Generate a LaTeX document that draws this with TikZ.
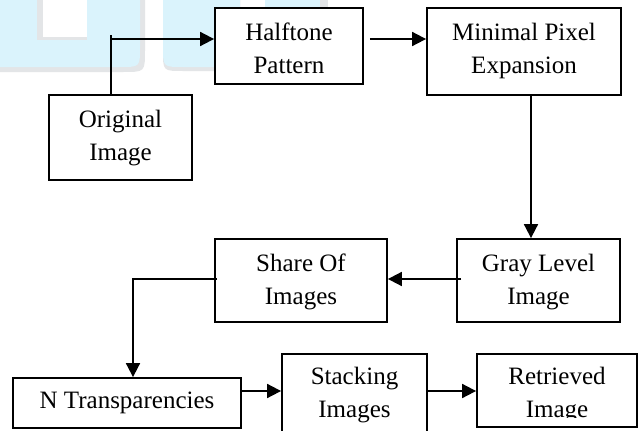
\documentclass[tikz,border=0pt]{standalone}
\usepackage{fontspec}
\setmainfont{Liberation Serif}
\usetikzlibrary{arrows.meta,calc}
\definecolor{wmblue}{HTML}{DAF3FC}
\definecolor{wmgray}{HTML}{E3E5E7}
\begin{document}
\begin{tikzpicture}[x=1pt,y=-1pt,
  box/.style={draw=black, fill=white, line width=1.8pt, rectangle, inner sep=0pt},
  txt/.style={font=\fontsize{25}{33}\selectfont, align=center, inner sep=0pt, anchor=north},
  conn/.style={line width=1.8pt},
  arr/.style={conn, -{Triangle[length=14pt,width=14pt]}}]
\clip (0,0) rectangle (638,431);
\fill[white] (0,0) rectangle (638,431);
% watermark
\fill[wmgray] (0,0) -- (145,0) -- (145,50) .. controls (145,72) .. (123,72) -- (0,72) -- cycle;
\fill[wmblue] (0,0) -- (140,0) -- (140,47) .. controls (140,67) .. (120,67) -- (0,67) -- cycle;
\fill[wmgray] (37,0) rectangle (87,40);
\fill[white] (43,0) rectangle (87,37);
\fill[wmgray] (163,0) -- (240,0) -- (240,71) -- (183,71) .. controls (163,71) .. (163,51) -- cycle;
\fill[wmblue] (163,0) -- (240,0) -- (240,67) -- (183,67) .. controls (163,67) .. (163,47) -- cycle;
\fill[wmgray] (265,0) rectangle (328,10);
\fill[wmblue] (265,0) rectangle (320,10);
% boxes
\node[box, minimum width=143pt, minimum height=85pt] (orig) at (120.5,137.5) {};
\node[box, minimum width=148pt, minimum height=76pt] (half) at (289,46) {};
\node[box, minimum width=194pt, minimum height=87pt] (mini) at (524,51.5) {};
\node[box, minimum width=163pt, minimum height=83pt] (gray) at (538.5,280.5) {};
\node[box, minimum width=172pt, minimum height=83pt] (share) at (301,280.5) {};
\node[box, minimum width=228pt, minimum height=50pt] (ntr) at (127,403) {};
\node[box, minimum width=145pt, minimum height=100pt] (stack) at (354.5,404) {};
\node[box, minimum width=160pt, minimum height=73pt] (retr) at (557,390.5) {};
% texts
\node[txt] (origT) at ([yshift=-16pt]orig.north) {Original\\Image};
\node[txt] (halfT) at ([yshift=-16pt]half.north) {Halftone\\Pattern};
\node[txt] (miniT) at ([yshift=-16pt]mini.north) {Minimal Pixel\\Expansion};
\node[txt] (grayT) at ([yshift=-16pt]gray.north) {Gray Level\\Image};
\node[txt] (shareT) at ([yshift=-16pt]share.north) {Share Of\\Images};
\node[txt] (ntrT) at ([yshift=-15pt]ntr.north) {N Transparencies};
\node[txt] (stackT) at ([yshift=-14pt]stack.north) {Stacking\\Images};
\begin{scope}
\clip (477,354) rectangle (637,417);
\node[txt] (retrT) at ([yshift=-14pt]retr.north) {Retrieved\\Image};
\end{scope}
% connectors
\coordinate (j1) at (111,39);
\coordinate (j1top) at (111,35);
\draw[conn] (orig.north -| j1) -- (j1top);
\draw[arr] (j1) -- (j1 -| half.west);
\draw[arr] ([xshift=6pt]half.east |- j1) -- (j1 -| mini.west);
\coordinate (j2) at (531,0);
\draw[arr] (mini.south -| j2) -- (gray.north -| j2);
\coordinate (j3) at (0,279);
\draw[arr] ([xshift=5pt]gray.west |- j3) -- (share.east |- j3);
\coordinate (j4) at (133,279);
\draw[arr] ([xshift=3pt]share.west |- j3) -- (j4) -- (ntr.north -| j4);
\coordinate (j5) at (0,391);
\draw[arr] (ntr.east |- j5) -- (stack.west |- j5);
\draw[arr] ([xshift=-2pt]stack.east |- j5) -- (retr.west |- j5);
\end{tikzpicture}
\end{document}
